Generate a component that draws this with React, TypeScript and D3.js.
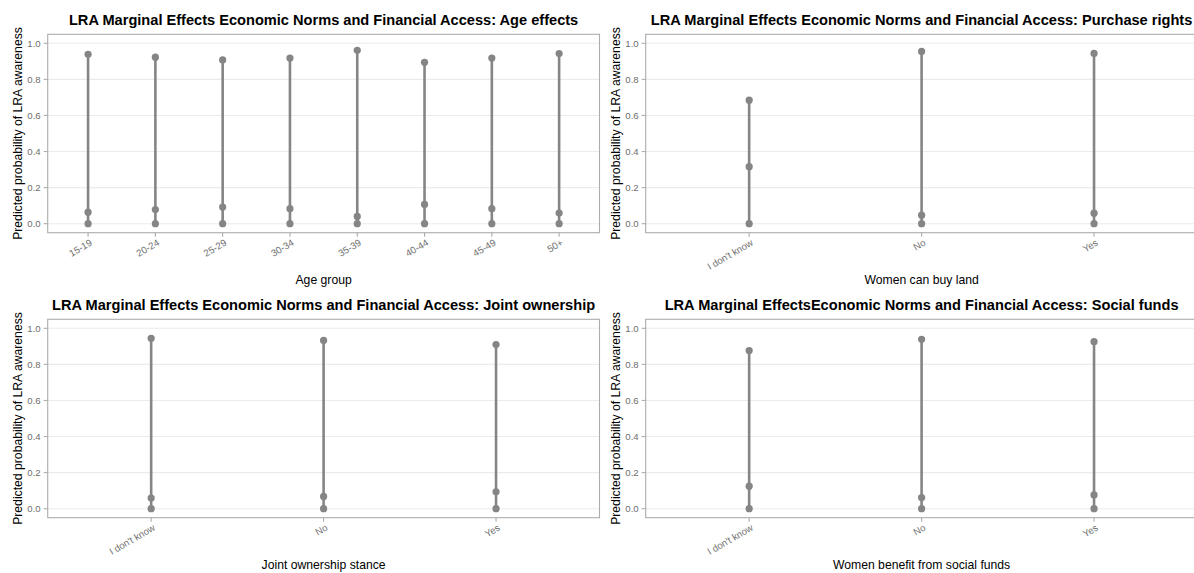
import React from "react";
import * as d3 from "d3";

// ---------- data ----------
const ageGroups = ["15-19", "20-24", "25-29", "30-34", "35-39", "40-44", "45-49", "50+"];
const ageHigh = [0.939, 0.923, 0.908, 0.918, 0.961, 0.895, 0.918, 0.943];
const ageMid = [0.064, 0.078, 0.092, 0.083, 0.040, 0.107, 0.083, 0.059];
const ageZero = [0, 0, 0, 0, 0, 0, 0, 0];

const ynCategories = ["I don't know", "No", "Yes"];

const buyHigh = [0.685, 0.955, 0.944];
const buyMid = [0.316, 0.047, 0.058];
const buyZero = [0, 0, 0];

const jointHigh = [0.945, 0.933, 0.910];
const jointMid = [0.059, 0.068, 0.094];
const jointZero = [0, 0, 0];

const fundsHigh = [0.877, 0.939, 0.926];
const fundsMid = [0.125, 0.062, 0.076];
const fundsZero = [0, 0, 0];

const yTicks = [0, 0.2, 0.4, 0.6, 0.8, 1.0];
const yTitle = "Predicted probability of LRA awareness";

const panelsSpec = [
  {
    title: "LRA Marginal Effects Economic Norms and Financial Access: Age effects",
    xTitle: "Age group",
    cats: ageGroups, high: ageHigh, mid: ageMid, zero: ageZero,
    col: 0, row: 0,
  },
  {
    title: "LRA Marginal Effects Economic Norms and Financial Access: Purchase rights",
    xTitle: "Women can buy land",
    cats: ynCategories, high: buyHigh, mid: buyMid, zero: buyZero,
    col: 1, row: 0,
  },
  {
    title: "LRA Marginal Effects Economic Norms and Financial Access: Joint ownership",
    xTitle: "Joint ownership stance",
    cats: ynCategories, high: jointHigh, mid: jointMid, zero: jointZero,
    col: 0, row: 1,
  },
  {
    title: "LRA Marginal EffectsEconomic Norms and Financial Access: Social funds",
    xTitle: "Women benefit from social funds",
    cats: ynCategories, high: fundsHigh, mid: fundsMid, zero: fundsZero,
    col: 1, row: 1,
  },
];

// ---------- layout ----------
const W = 1194;
const H = 573;
const colLeft = [47.7, 645.7];
const panelW = 551.8;
const rowTop = [34.3, 319.3];
const panelH = 198.4;
const FONT = "'Liberation Sans', Arial, Helvetica, sans-serif";
const GREY = "#858585";

function Panel({ spec }: { spec: any }) {
  const left = colLeft[spec.col];
  const right = left + panelW;
  const top = rowTop[spec.row];
  const bottom = top + panelH;
  const x = d3.scalePoint<string>().domain(spec.cats).range([left, right]).padding(0.6);
  const y = d3.scaleLinear().domain([-0.05, 1.05]).range([bottom, top]);
  const cx = (left + right) / 2;
  return (
    <g>
      {/* grid */}
      {yTicks.map((t) => (
        <line key={"g" + t} x1={left} x2={right} y1={y(t)} y2={y(t)} stroke="#ebebeb" strokeWidth={1.1} />
      ))}
      {/* panel border */}
      <rect x={left} y={top} width={panelW} height={panelH} fill="none" stroke="#adadad" strokeWidth={1.1} />
      {/* y ticks */}
      {yTicks.map((t) => (
        <g key={"y" + t}>
          <line x1={left - 4} x2={left} y1={y(t)} y2={y(t)} stroke="#adadad" strokeWidth={1.1} />
          <text x={left - 7} y={y(t)} dy="0.35em" textAnchor="end" fontSize={9.6} fill="#6e6e6e" fontFamily={FONT}>
            {d3.format(".1f")(t)}
          </text>
        </g>
      ))}
      {/* x ticks */}
      {spec.cats.map((c: string) => (
        <g key={"x" + c}>
          <line x1={x(c)} x2={x(c)} y1={bottom} y2={bottom + 4} stroke="#adadad" strokeWidth={1.1} />
          <text
            transform={`translate(${(x(c) as number) + 3},${bottom + 9}) rotate(-30)`}
            textAnchor="end"
            dy="0.35em"
            fontSize={9.6}
            fill="#6e6e6e"
            fontFamily={FONT}
          >
            {c}
          </text>
        </g>
      ))}
      {/* ranges */}
      {spec.cats.map((c: string, i: number) => (
        <line
          key={"r" + c}
          x1={x(c)}
          x2={x(c)}
          y1={y(spec.zero[i])}
          y2={y(spec.high[i])}
          stroke={GREY}
          strokeWidth={2.6}
        />
      ))}
      {/* points */}
      {spec.cats.map((c: string, i: number) =>
        [spec.zero[i], spec.mid[i], spec.high[i]].map((v: number, j: number) => (
          <circle key={"p" + c + j} cx={x(c)} cy={y(v)} r={3.6} fill={GREY} />
        ))
      )}
      {/* titles */}
      <text x={cx} y={top - 9.3} textAnchor="middle" fontSize={14.6} fontWeight="bold" fill="#000" fontFamily={FONT}>
        {spec.title}
      </text>
      <text x={cx} y={bottom + 51.5} textAnchor="middle" fontSize={12.2} fill="#000" fontFamily={FONT}>
        {spec.xTitle}
      </text>
      <text
        transform={`translate(${left - 25.3},${(top + bottom) / 2}) rotate(-90)`}
        textAnchor="middle"
        fontSize={12.2}
        fill="#000"
        fontFamily={FONT}
      >
        {yTitle}
      </text>
    </g>
  );
}

export default function App() {
  return (
    <svg
      width={W}
      height={H}
      viewBox={`0 0 ${W} ${H}`}
      style={{ position: "absolute", left: 0, top: 0, background: "#fff" }}
    >
      <rect x={0} y={0} width={W} height={H} fill="#fff" />
      {panelsSpec.map((p, i) => (
        <Panel key={i} spec={p} />
      ))}
    </svg>
  );
}
